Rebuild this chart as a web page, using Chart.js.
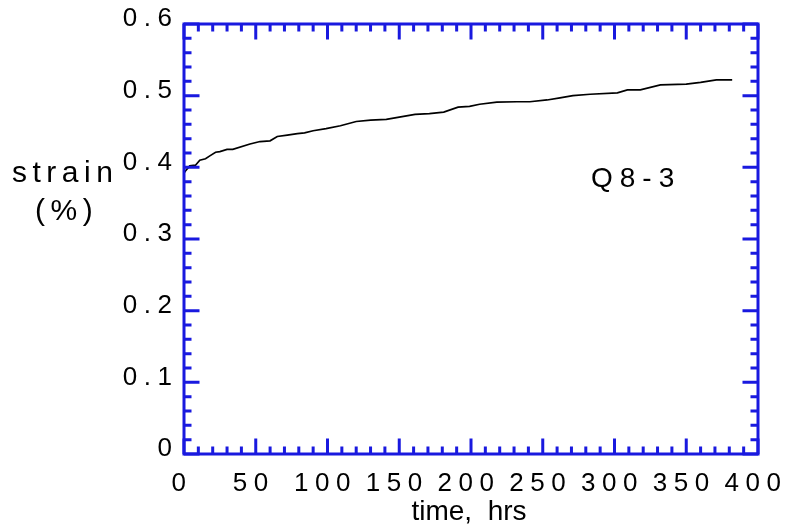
<!DOCTYPE html>
<html>
<head>
<meta charset="utf-8">
<script src="https://cdn.jsdelivr.net/npm/chart.js@4"></script>
<style>
  html, body { margin: 0; padding: 0; background: #fff; }
  #wrap { width: 787px; height: 529px; }
</style>
</head>
<body>
<div id="wrap"><canvas id="creep"></canvas></div>
<script>
// creep curve (time in hrs, strain in %)
const times = [0, 1, 4, 8, 11, 15, 18, 22, 25, 30, 34, 46, 53, 60, 65, 72, 79, 84, 90, 99,
  109, 120, 130, 141, 150, 161, 171, 181, 191, 199, 206, 218, 232, 241, 253, 262, 271,
  283, 302, 309, 318, 332, 350, 360, 371, 382];
const strain = [0.392, 0.395, 0.402, 0.403, 0.41, 0.412, 0.416, 0.421, 0.422, 0.425, 0.425,
  0.4325, 0.436, 0.437, 0.443, 0.445, 0.447, 0.448, 0.451, 0.454, 0.458, 0.464, 0.466,
  0.467, 0.47, 0.474, 0.475, 0.477, 0.484, 0.485, 0.488, 0.491, 0.4915, 0.4915, 0.494,
  0.497, 0.5, 0.502, 0.504, 0.508, 0.508, 0.515, 0.516, 0.5185, 0.522, 0.522];
const sampleName = 'Q8-3';
const xRange = [0, 400];
const yRange = [0, 0.6];

const BLUE = '#1919df';
const FONT = 'Arial, "Liberation Sans", Helvetica, sans-serif';

// spaced-out tick digits like the original plot
function spacing(chart) { chart.ctx.letterSpacing = '6.5px'; }

const framePlugin = {
  id: 'frame',
  beforeLayout: spacing,
  beforeDraw: spacing,
  afterDraw(chart) {
    const { ctx, chartArea: a, scales } = chart;
    ctx.save();
    ctx.strokeStyle = BLUE;
    ctx.lineWidth = 3;
    ctx.lineCap = 'butt';
    ctx.strokeRect(a.left, a.top, a.right - a.left, a.bottom - a.top);

    // inward ticks on all four sides
    ctx.beginPath();
    for (let v = xRange[0]; v <= xRange[1]; v += 10) {
      const px = scales.x.getPixelForValue(v);
      const len = v % 50 === 0 ? 15.5 : 7.5;
      ctx.moveTo(px, a.bottom); ctx.lineTo(px, a.bottom - len);
      ctx.moveTo(px, a.top); ctx.lineTo(px, a.top + len);
    }
    for (let i = 0; i <= 30; i++) {
      const py = scales.y.getPixelForValue(i * 0.02);
      const len = i % 5 === 0 ? 15.5 : 7.5;
      ctx.moveTo(a.left, py); ctx.lineTo(a.left + len, py);
      ctx.moveTo(a.right, py); ctx.lineTo(a.right - len, py);
    }
    ctx.stroke();

    // free text
    ctx.fillStyle = '#000';
    ctx.textBaseline = 'alphabetic';
    ctx.textAlign = 'left';
    ctx.letterSpacing = '5.5px';
    ctx.font = '30px ' + FONT;
    ctx.fillText('strain', 12, 182);
    ctx.fillText('(%)', 35, 220);
    ctx.letterSpacing = '7px';
    ctx.font = '28px ' + FONT;
    ctx.fillText(sampleName, 591, 187);
    ctx.letterSpacing = '0px';
    ctx.font = '28px ' + FONT;
    ctx.textAlign = 'center';
    ctx.fillText('time,  hrs', (a.left + a.right) / 2 - 2, 520);
    ctx.restore();
  }
};

new Chart(document.getElementById('creep'), {
  type: 'line',
  data: {
    datasets: [{
      data: times.map((t, i) => ({ x: t, y: strain[i] })),
      borderColor: '#000',
      borderWidth: 1.7,
      pointRadius: 0,
      tension: 0,
      fill: false
    }]
  },
  options: {
    responsive: true,
    maintainAspectRatio: false,
    animation: false,
    layout: { padding: { left: 0, right: 29, top: 24, bottom: 0 } },
    plugins: { legend: { display: false }, tooltip: { enabled: false } },
    scales: {
      x: {
        type: 'linear',
        min: xRange[0], max: xRange[1],
        grid: { display: false, drawTicks: false },
        border: { display: false },
        ticks: {
          stepSize: 50, color: '#000', padding: 17, labelOffset: -2,
          maxRotation: 0, autoSkip: false,
          font: { family: FONT, size: 26, lineHeight: 1 }
        },
        afterFit(s) { s.height = 75; s.paddingLeft = 0; s.paddingRight = 0; }
      },
      y: {
        min: yRange[0], max: yRange[1],
        grid: { display: false, drawTicks: false },
        border: { display: false },
        ticks: {
          stepSize: 0.1, color: '#000', padding: 5.5, labelOffset: -5,
          font: { family: FONT, size: 26, lineHeight: 1 }
        },
        afterFit(s) { s.width = 184; s.paddingTop = 0; s.paddingBottom = 0; }
      }
    }
  },
  plugins: [framePlugin]
});
</script>
</body>
</html>
